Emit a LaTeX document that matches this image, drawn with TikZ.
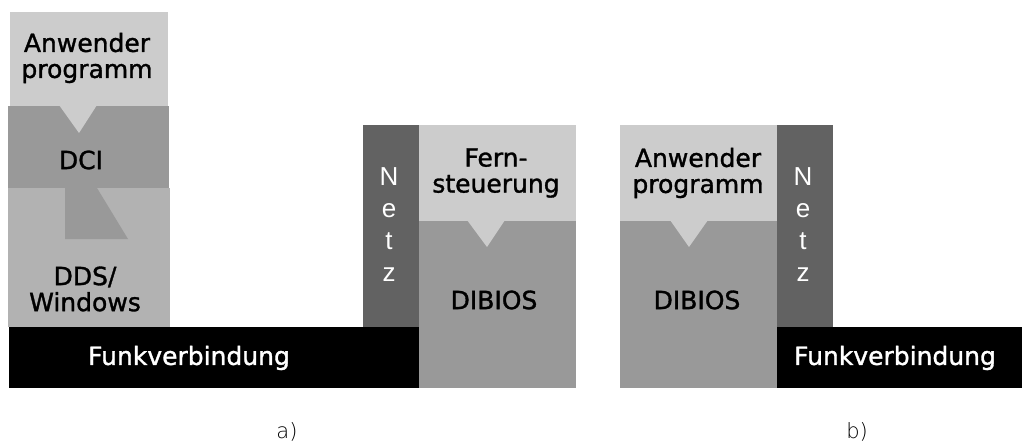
\documentclass[tikz,border=0pt]{standalone}
\usepackage{fontspec}
\setmainfont{DejaVu Sans}
\newfontfamily\boxfont[FakeBold=1.3]{DejaVu Sans}
\newfontfamily\netzfont{Liberation Sans}
\newfontfamily\thinfont{DejaVu Sans ExtraLight}
\definecolor{paleg}{HTML}{CCCCCC}
\definecolor{midg}{HTML}{999999}
\definecolor{ddsg}{HTML}{B2B2B2}
\definecolor{netzg}{HTML}{626262}
\begin{document}
\begin{tikzpicture}[x=1pt,y=-1pt,
  boxtext/.style={font=\boxfont\fontsize{25}{26}\selectfont, align=center, inner sep=0pt, text=black},
  bartext/.style={font=\boxfont\fontsize{25}{26}\selectfont, inner sep=0pt, text=white},
  netztext/.style={font=\netzfont\fontsize{26}{32}\selectfont, align=center, inner sep=0pt, text=white},
  caption/.style={font=\thinfont\fontsize{21}{24}\selectfont, inner sep=0pt, text=black}]
\useasboundingbox (0,0) rectangle (1022,444);

% ---- part a): PC side ----
\fill[ddsg] (8,188) rectangle (170,327);
\fill[midg] (65,188) -- (97,188) -- (128,239) -- (65,239) -- cycle;
\fill[midg] (8,106) rectangle (169,188);
\fill[paleg] (10,12) rectangle (168,106);
\fill[paleg] (59,105) -- (97,105) -- (79,133) -- cycle;
\fill[black] (9,327) rectangle (419,388);

\node[boxtext] (anwa) at (87,58) {Anwender\\programm};
\node[boxtext] (dci) at (81,160) {DCI};
\node[boxtext] (dds) at (85,289) {DDS/\\Windows};
\node[bartext] (funka) at (189,358) {Funkverbindung};

% ---- part a): remote side ----
\fill[netzg] (363,125) rectangle (419,327);
\fill[midg] (419,221) rectangle (576,388);
\fill[paleg] (419,125) rectangle (576,221);
\fill[paleg] (467,220) -- (505,220) -- (487,247) -- cycle;

\node[netztext] (netza) at (389,225) {N\\e\\t\\z};
\node[boxtext] (fern) at (496,173) {Fern-\\steuerung};
\node[boxtext] (dibiosa) at (494,300) {DIBIOS};

% ---- part b) ----
\fill[midg] (620,221) rectangle (777,388);
\fill[paleg] (620,125) rectangle (777,221);
\fill[paleg] (670,220) -- (708,220) -- (689,247) -- cycle;
\fill[netzg] (777,125) rectangle (833,327);
\fill[black] (777,327) rectangle (1022,388);

\node[boxtext] (anwb) at (698,173) {Anwender\\programm};
\node[boxtext] (dibiosb) at (697,300) {DIBIOS};
\node[netztext] (netzb) at (803,225) {N\\e\\t\\z};
\node[bartext] (funkb) at (895,358) {Funkverbindung};

% ---- captions ----
\node[caption] (capa) at (287,432) {a)};
\node[caption] (capb) at (857,432) {b)};
\end{tikzpicture}
\end{document}
